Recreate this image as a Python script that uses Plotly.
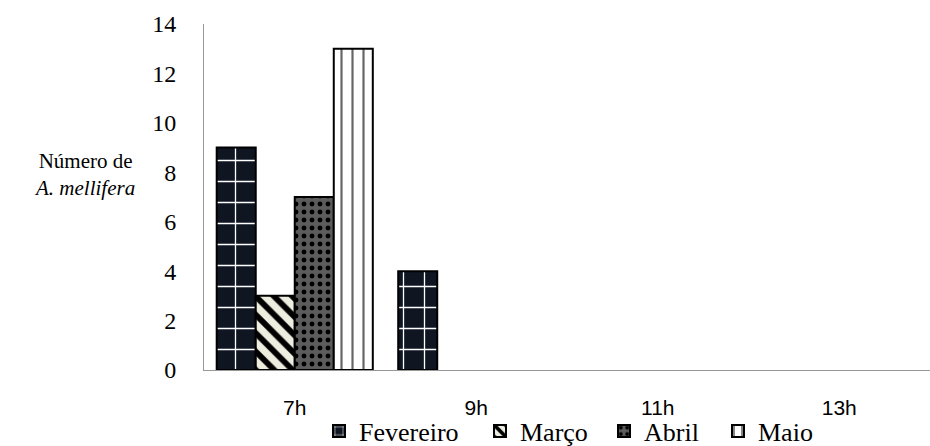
import plotly.graph_objects as go

# Horários de observação e contagens mensais de A. mellifera
horarios = ["7h", "9h", "11h", "13h"]
fevereiro = [9, 4, 0, 0]
marco = [3, 0, 0, 0]
abril = [7, 0, 0, 0]
maio = [13, 0, 0, 0]

SERIF = "Liberation Serif, Times New Roman, serif"
SANS = "Liberation Sans, Arial, sans-serif"

# geometria do gráfico (px)
W, H = 930, 446
ML, MR, MT, MB = 204, 0, 24, 76
PLOT_W = W - ML - MR

series = [
    ("Fevereiro", fevereiro, dict(shape="+", bgcolor="#0f1622", fgcolor="#ffffff", size=21, solidity=0.12)),
    ("Março", marco, dict(shape="\\", bgcolor="#eeeee0", fgcolor="#000000", size=13, solidity=0.45)),
    ("Abril", abril, dict(shape=".", bgcolor="#5c5c5c", fgcolor="#000000", size=8, solidity=0.3)),
    ("Maio", maio, dict(shape="|", bgcolor="#ffffff", fgcolor="#666666", size=11, solidity=0.2)),
]

# início horizontal de cada item da legenda (px)
legend_left = [319, 480, 604, 718]
legend_ids = ["legend", "legend2", "legend3", "legend4"]

fig = go.Figure()
for (nome, valores, padrao), lid in zip(series, legend_ids):
    fig.add_trace(go.Bar(
        x=horarios,
        y=valores,
        name=nome,
        legend=lid,
        marker=dict(
            color=padrao["bgcolor"],
            pattern=dict(fillmode="replace", **padrao),
            # contorno só nas barras com contagem
            line=dict(color="#000000", width=[2 if v > 0 else 0 for v in valores]),
        ),
    ))

legend_style = dict(
    orientation="h",
    xref="paper",
    xanchor="left",
    yref="container",
    y=(H - 431) / H,
    yanchor="middle",
    bgcolor="rgba(0,0,0,0)",
    font=dict(family=SERIF, size=26, color="#000000"),
    itemwidth=30,
)
legend_layout = {
    lid: dict(legend_style, x=(px - ML) / PLOT_W)
    for lid, px in zip(legend_ids, legend_left)
}

fig.update_layout(
    width=W,
    height=H,
    margin=dict(l=ML, r=MR, t=MT, b=MB, autoexpand=False),
    plot_bgcolor="white",
    paper_bgcolor="white",
    barmode="group",
    bargap=0.14,
    bargroupgap=0,
    showlegend=True,
    xaxis=dict(
        type="category",
        range=[-0.5, 3.5],
        showline=True,
        linecolor="#989898",
        linewidth=1,
        showgrid=False,
        ticks="",
        ticklabelstandoff=19,
        tickfont=dict(family=SANS, size=21, color="#000000"),
    ),
    yaxis=dict(
        range=[0, 14],
        dtick=2,
        showline=True,
        linecolor="#989898",
        linewidth=1,
        showgrid=False,
        zeroline=False,
        ticks="",
        ticklabelstandoff=22,
        tickfont=dict(family=SERIF, size=24, color="#000000"),
    ),
    annotations=[
        dict(
            text="Número de<br><i>A. mellifera</i>",
            xref="paper", yref="paper",
            x=-0.164, y=0.565,
            xanchor="center", yanchor="middle",
            showarrow=False,
            align="center",
            font=dict(family=SERIF, size=21, color="#000000"),
        )
    ],
    **legend_layout,
)

fig.write_html("out.html")
